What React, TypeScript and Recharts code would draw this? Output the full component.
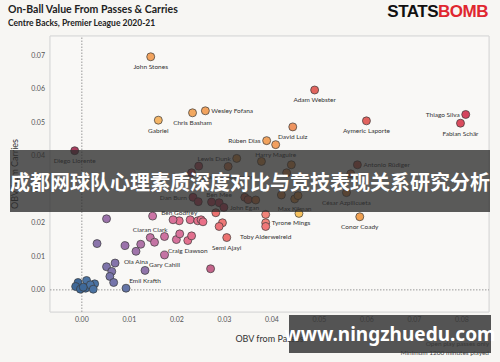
import { ScatterChart, Scatter, XAxis, YAxis, CartesianGrid, ReferenceLine, ReferenceArea } from 'recharts';

const playerNames = [
  'John Stones', 'Wesley Fofana', 'Chris Basham', 'Gabriel', 'Diego Llorente', 'Rúben Dias',
  'Harry Maguire', 'David Luiz', 'Adam Webster', 'Aymeric Laporte', 'Thiago Silva', 'Fabian Schär',
  'Lewis Dunk', 'Joachim Andersen', 'Antonio Rüdiger', 'Dan Burn', 'Ben Mee', 'John Egan',
  'César Azpilicueta', 'Max Kilman', 'Tyrone Mings', 'Toby Alderweireld', 'Conor Coady', 'Ben Godfrey',
  'Ciaran Clark', 'Craig Dawson', 'Semi Ajayi', 'Ola Aina', 'Gary Cahill', 'Emil Krafth',
  '', '', '', '', '', '', '', '', '', '', '', '', '', '', '', '', '', '', '', '', '', '', '', '', '',
  '', '', '', '', '', '', '', '', '', '', '', '', '', '', '', '', '', '', '', '', '', '', '', '',
];

// OBV from passes (x)
const passValues = [
  0.0145, 0.0260, 0.0233, 0.0161, -0.0015, 0.0389,
  0.0408, 0.0444, 0.0490, 0.0599, 0.0808, 0.0797,
  0.0326, 0.0308, 0.0580, 0.0234, 0.0289, 0.0299,
  0.0557, 0.0448, 0.0387, 0.0387, 0.0585, 0.0205,
  0.0144, 0.0223, 0.0305, 0.0114, 0.0174, 0.0133,
  0.0246, 0.0378, 0.0441, 0.0431, 0.0566, 0.0231, 0.0245, 0.0273, 0.0343, 0.0350, 0.0366, 0.0420, 0.0455,
  0.0457, 0.0387, 0.0282, 0.0296, 0.0289, 0.0052, 0.0149, 0.0192, 0.0228, 0.0244, 0.0251, 0.0255,
  0.0032, 0.0091, 0.0124, 0.0153, 0.0174, 0.0199, 0.0206, 0.0231,
  0.0052, 0.0063, 0.0070, 0.0059, 0.0067, 0.0093, 0.0271,
  -0.0008, 0.0010, 0.0027, -0.0013, -0.0003, 0.0008, 0.0018, 0.0024, 0.0003, 0.0027, -0.0017, -0.0006,
];

// OBV from carries (y)
const carryValues = [
  0.0695, 0.0534, 0.0528, 0.0506, 0.0415, 0.0445,
  0.0433, 0.0486, 0.0596, 0.0504, 0.0523, 0.0497,
  0.0392, 0.0368, 0.0373, 0.0276, 0.0260, 0.0246,
  0.0290, 0.0271, 0.0200, 0.0189, 0.0218, 0.0206,
  0.0156, 0.0147, 0.0156, 0.0115, 0.0104, 0.0058,
  0.0369, 0.0383, 0.0373, 0.0349, 0.0346, 0.0349, 0.0263, 0.0262, 0.0276, 0.0269, 0.0268, 0.0283, 0.0281,
  0.0228, 0.0225, 0.0230, 0.0200, 0.0189, 0.0212, 0.0220, 0.0209, 0.0209, 0.0206, 0.0209, 0.0203,
  0.0138, 0.0132, 0.0136, 0.0142, 0.0159, 0.0150, 0.0167, 0.0161,
  0.0069, 0.0055, 0.0080, 0.0040, 0.0022, 0.0005, 0.0063,
  0.0022, 0.0028, 0.0018, 0.0010, 0.0002, 0.0005, 0.0015, 0.0002, 0.0008, 0.0005, 0.0012, 0.0000,
];

const xTicks = [0, 0.01, 0.02, 0.03, 0.04, 0.05, 0.06, 0.07, 0.08];
const yTicks = [0, 0.01, 0.02, 0.03, 0.04, 0.05, 0.06, 0.07];

const dotColors = [
  '#f2a35e', '#f2a35e', '#f2a860', '#f5b566', '#a83e5e', '#f2a35e',
  '#f2a060', '#ee9460', '#e2655e', '#e2625e', '#d4445e', '#da4c5e',
  '#f0a050', '#e88a58', '#d4604e', '#d85068', '#d85068', '#d85068',
  '#f09850', '#f0a050', '#f2847a', '#f07878', '#f0a050', '#e4708e',
  '#c474a4', '#e2708e', '#ec7270', '#a074aa', '#c474a4', '#9074aa',
  '#d05a6a', '#f0a050', '#f09a50', '#ec9050', '#e08050', '#d85868', '#d85068', '#d85068', '#e07058', '#e07058', '#e88a50', '#f09850', '#f0a050',
  '#f7c25e', '#f2847a', '#ec7270', '#ee7876', '#ec7278', '#9b72aa', '#cc74a6', '#d87098', '#e2708e', '#e6728c', '#e8728a', '#ea7088',
  '#8a74aa', '#9a72aa', '#b074a8', '#c474a4', '#ce72a0', '#d6729c', '#d8729a', '#e2708e',
  '#7e74aa', '#8074aa', '#8474aa', '#7674aa', '#7474aa', '#6474a6', '#c4648a',
  '#3e6898', '#4a72a2', '#4a72a2', '#3e6898', '#3e6898', '#3e6898', '#4a72a2', '#4a72a2', '#3e6898', '#4a72a2', '#3e6898', '#3e6898',
];

const labelSides = [
  'bottom', 'right', 'bottom', 'bottom', 'bottom', 'left',
  'bottom', 'bottom', 'bottom', 'bottom', 'left', 'bottom',
  'left', 'bottom', 'right', 'left', 'top', 'right',
  'bottom', 'bottom', 'right', 'bottom', 'bottom', 'top',
  'top', 'bottom', 'bottom', 'bottom', 'bottom', 'bottom',
];

const points = playerNames.map((name, i) => ({
  name,
  obvPass: passValues[i],
  obvCarry: carryValues[i],
  fill: dotColors[i],
  side: labelSides[i] || 'bottom',
}));

const FONT = 'Lato, "Open Sans", sans-serif';

const PlayerDot = (props: any) => {
  const { cx, cy, payload } = props;
  if (cx == null || cy == null) return null;
  let tx = cx;
  let ty = cy + 10;
  let anchor: 'start' | 'middle' | 'end' = 'middle';
  if (payload.side === 'top') ty = cy - 8;
  if (payload.side === 'left') { tx = cx - 6; ty = cy; anchor = 'end'; }
  if (payload.side === 'right') { tx = cx + 6; ty = cy; anchor = 'start'; }
  return (
    <g>
      <circle cx={cx} cy={cy} r={4} fill={payload.fill} stroke="#3a3a3a" strokeWidth={0.7} />
      {payload.name && (
        <text x={tx} y={ty} textAnchor={anchor} dominantBaseline="central" fontSize={6.5} fill="#333" fontFamily={FONT}>
          {payload.name}
        </text>
      )}
    </g>
  );
};

const fmt = (v: number) => v.toFixed(2);

export default function App() {
  return (
    <div style={{ position: 'absolute', left: 0, top: 0, width: 500, height: 362, background: '#f7f6f3', overflow: 'hidden', fontFamily: FONT }}>
      <ScatterChart width={500} height={362} margin={{ top: 36, right: 11, bottom: 20, left: 0 }}>
        <ReferenceArea x1={-0.0067} x2={0.0857} y1={-0.0066} y2={0.0757} fill="#f9f8f6" stroke="#d6d6d6" fillOpacity={1} />
        <CartesianGrid stroke="#e4e4e4" />
        <XAxis
          type="number"
          dataKey="obvPass"
          domain={[-0.0067, 0.0857]}
          ticks={xTicks}
          tickFormatter={fmt}
          allowDataOverflow
          height={30}
          axisLine={false}
          tickLine={false}
          tickSize={3}
          tick={{ fontSize: 7, fill: '#555', fontFamily: FONT }}
          label={{ value: 'OBV from Passes', position: 'insideBottom', offset: 0, fontSize: 9, fill: '#333', fontFamily: FONT }}
        />
        <YAxis
          type="number"
          dataKey="obvCarry"
          domain={[-0.0066, 0.0757]}
          ticks={yTicks}
          tickFormatter={fmt}
          allowDataOverflow
          width={50}
          axisLine={false}
          tickLine={false}
          tickSize={3}
          tick={{ fontSize: 7, fill: '#555', fontFamily: FONT }}
          label={{ value: 'OBV from Carries', angle: -90, position: 'insideLeft', offset: 15, fontSize: 9, fill: '#333', fontFamily: FONT, style: { textAnchor: 'middle' } }}
        />
        <ReferenceLine x={0} stroke="#999" strokeDasharray="1.5 1.5" />
        <ReferenceLine y={0} stroke="#999" strokeDasharray="1.5 1.5" />
        <Scatter data={points} shape={PlayerDot} isAnimationActive={false} />
      </ScatterChart>

      <div style={{ position: 'absolute', left: 8, top: 3, fontSize: 10.5, fontWeight: 700, color: '#222' }}>
        On-Ball Value From Passes &amp; Carries
      </div>
      <div style={{ position: 'absolute', left: 8, top: 18, fontSize: 8.5, fontWeight: 700, color: '#222' }}>
        Centre Backs, Premier League 2020-21
      </div>
      <div style={{ position: 'absolute', right: 12, top: 2, fontSize: 17, fontWeight: 900, letterSpacing: -0.5, fontFamily: '"Liberation Sans", "DejaVu Sans", sans-serif' }}>
        <span style={{ color: '#111' }}>STATS</span>
        <span style={{ color: '#e0262f' }}>BOMB</span>
      </div>
      <div style={{ position: 'absolute', right: 11, top: 339, fontSize: 6.5, color: '#444', textAlign: 'right', lineHeight: '9px' }}>
        Open play passes only
        <br />
        Minimum 1200 minutes played
      </div>

      <div
        style={{
          position: 'absolute', left: 10, top: 150, width: 480, height: 62,
          background: 'rgba(45,45,45,0.78)', color: '#fff', display: 'flex', alignItems: 'center', justifyContent: 'center',
          fontSize: 20, fontWeight: 700, fontFamily: '"Noto Sans CJK SC", sans-serif', whiteSpace: 'nowrap',
        }}
      >
        成都网球队心理素质深度对比与竞技表现关系研究分析
      </div>
      <div
        style={{
          position: 'absolute', left: 289, top: 315, width: 202, height: 38,
          background: 'rgba(55,55,55,0.85)', color: '#fff', display: 'flex', alignItems: 'center', justifyContent: 'center',
          fontSize: 19, fontWeight: 700, fontFamily: '"Noto Sans", sans-serif', whiteSpace: 'nowrap',
        }}
      >
        www.ningzhuedu.com
      </div>
    </div>
  );
}
